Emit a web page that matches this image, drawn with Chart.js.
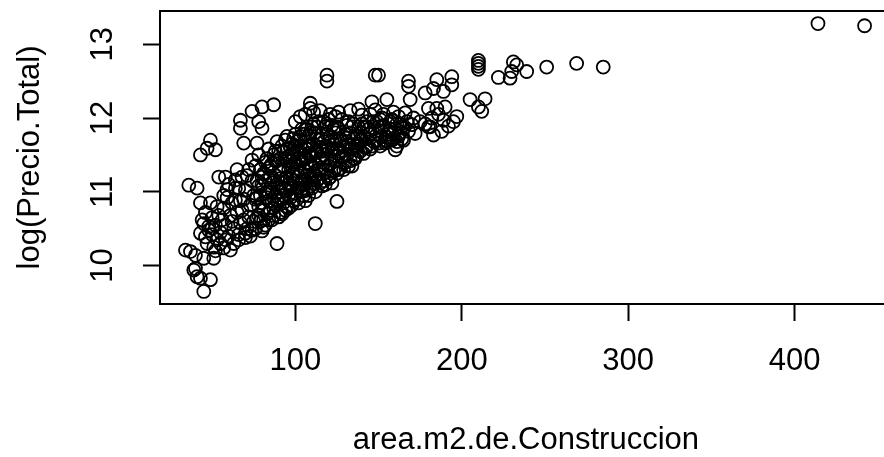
<!DOCTYPE html>
<html>
<head>
<meta charset="utf-8">
<title>log(Precio.Total) vs area.m2.de.Construccion</title>
<script src="https://cdn.jsdelivr.net/npm/chart.js@4.4.1/dist/chart.umd.min.js"></script>
<style>
  html, body { margin: 0; padding: 0; background: #fff; overflow: hidden; }
  #grafico { display: block; }
</style>
</head>
<body>
<canvas id="grafico" width="900" height="457"></canvas>
<script>
// puntos: [area.m2.de.Construccion, log(Precio.Total)]
const atipicosDerecha = [[414,13.28],[442,13.25],[251,12.69],[269,12.74],[285,12.69]];

const grupoSuperior = [
  [210,12.78],[210,12.74],[210,12.70],[210,12.66],[231,12.76],[233,12.72],[239,12.63],
  [222,12.55],[229,12.54],[230,12.63],[168,12.50],[168,12.43],[185,12.52],[183,12.40],
  [194,12.56],[194,12.45],[189,12.36],[178,12.34],[169,12.25],[155,12.25],[150,12.58],
  [119,12.58],[119,12.50],[148,12.58],[109,12.20],[109,12.13],[146,12.22]
];

const grupoDerecha = [
  [205,12.25],[214,12.26],[210,12.15],[212,12.09],[180,12.13],[185,12.13],[190,12.15],
  [197,12.02],[192,11.89],[182,12.00],[183,11.77],[180,11.88],[171,12.00],[172,11.79],
  [160,11.57],[154,11.70],[165,11.86],[170,11.91],[158,11.97],[152,11.88],[148,12.11],
  [143,11.95],[150,11.88],[140,12.04],[166,12.07],[164,11.88],[189,11.97],[181,11.88],
  [175,11.95],[162,12.02],[186,12.05],[178,11.92],[195,11.95],[188,11.82],[153,12.05],
  [157,11.85],[162,11.75],[167,11.95],[156,11.78],[161,11.92],[151,11.98],[168,11.82],
  [159,12.08]
];

const grupoIzqSuperior = [
  [49,11.70],[43,11.50],[52,11.57],[47,11.59],[67,11.97],[67,11.86],[74,12.09],[80,12.15],
  [87,12.18],[78,11.95],[80,11.86],[69,11.66],[77,11.66],[65,11.30],[74,11.43],[95,11.75],
  [106,11.84],[106,11.59]
];

const grupoIzqInferior = [
  [36,11.09],[41,11.05],[43,10.85],[49,10.85],[45,10.57],[43,10.44],[50,10.51],[34,10.21],
  [37,10.19],[40,10.14],[45,10.10],[51,10.10],[57,10.24],[61,10.21],[39,9.94],[43,9.83],
  [49,9.81],[41,9.85],[45,9.65],[40,9.96],[89,10.30],[112,10.57],[125,10.87],[58,11.20],
  [64,11.16],[54,11.20],[59,11.03],[64,10.89],[44,10.62],[48,10.53],[46,10.39],[58,10.35],
  [66,10.35],[70,10.44],[47,10.30],[50,10.42],[52,10.55],[53,10.35],[54,10.68],[48,10.48],
  [51,10.25],[55,10.30],[53,10.80],[46,10.72],[50,10.65],[52,10.20]
];

const nucleo60 = [
  [55,10.45],[56,10.62],[57,10.78],[58,10.55],[59,10.92],[60,10.40],[61,10.68],[62,10.85],
  [63,10.50],[64,11.05],[65,10.72],[63,10.30],[60,11.10],[57,10.95],[62,10.60],[66,10.42],
  [67,10.58],[68,10.75],[69,10.90],[70,11.02],[71,10.50],[72,10.66],[73,10.82],[74,11.15],
  [75,10.95],[68,11.20],[70,10.38],[72,11.30],[66,11.05],[74,10.48],[69,10.62],[71,11.22],
  [73,10.40],[67,10.88],[75,10.60]
];

const nucleo80 = [
  [76,10.50],[77,10.65],[78,10.80],[79,10.95],[80,11.10],[81,11.25],[82,10.55],[83,10.70],
  [84,10.88],[85,11.05],[76,11.35],[78,11.50],[80,10.47],[82,11.40],[84,11.58],[77,11.15],
  [79,10.60],[81,10.75],[83,11.00],[85,11.20],[76,10.90],[78,11.08],[80,10.85],[82,10.98],
  [84,10.62],[79,11.30],[81,10.52],[83,11.45],[77,10.92],[85,10.75],
  [86,10.62],[87,10.78],[88,10.95],[89,11.10],[90,11.28],[91,11.45],[92,10.70],[93,10.85],
  [94,11.02],[95,11.20],[86,11.38],[88,11.55],[90,10.66],[92,11.62],[94,11.70],[87,11.15],
  [89,10.88],[91,11.00],[93,11.35],[95,10.80],[86,11.00],[88,11.22],[90,10.92],[92,11.12],
  [94,10.75],[87,11.50],[89,11.68],[91,10.72],[93,11.55],[95,11.42],[88,10.82],[90,11.05],
  [92,11.30],[94,11.18],[86,10.88]
];

const nucleo100 = [
  [96,10.78],[97,10.92],[98,11.08],[99,11.25],[100,11.40],[101,11.55],[102,10.85],[103,11.00],
  [104,11.15],[105,11.32],[96,11.48],[98,11.65],[100,11.78],[102,11.70],[104,11.85],[97,11.18],
  [99,10.88],[101,11.05],[103,11.42],[105,10.95],[96,11.10],[98,11.35],[100,10.98],[102,11.22],
  [104,11.58],[97,11.60],[99,11.50],[101,11.28],[103,11.75],[105,11.10],[98,10.82],[100,11.15],
  [102,11.45],[104,11.00],[96,11.30],[99,11.72],[101,10.90],[103,11.62],[105,11.50],[97,11.42],
  [106,10.88],[107,11.02],[108,11.18],[109,11.35],[110,11.50],[111,11.65],[112,11.00],[113,11.15],
  [114,11.30],[115,11.45],[106,11.60],[108,11.75],[110,11.88],[112,11.80],[114,11.95],[107,11.40],
  [109,11.08],[111,11.25],[113,11.55],[115,11.12],[106,11.28],[108,11.52],[110,11.20],[112,11.38],
  [114,11.70],[107,11.85],[109,11.62],[111,11.92],[113,11.72],[115,11.60],[108,10.95],[110,11.05],
  [112,11.55],[114,11.18],[106,11.45],[109,11.80],[100,11.95],[103,12.02],[106,12.05],[111,12.08]
];

const nucleo120 = [
  [116,11.08],[117,11.15],[118,11.30],[119,11.45],[120,11.60],[121,11.75],[122,11.12],[123,11.28],
  [124,11.42],[125,11.58],[116,11.72],[118,11.88],[120,11.98],[122,11.90],[124,12.02],[117,11.50],
  [119,11.22],[121,11.38],[123,11.65],[125,11.25],[116,11.40],[118,11.62],[120,11.35],[122,11.55],
  [124,11.80],[117,11.95],[119,11.78],[121,12.05],[123,11.85],[125,11.72],[118,11.10],[120,11.18],
  [122,11.70],[124,11.32],[116,11.55],[119,11.92],[115,12.10],
  [126,11.30],[127,11.32],[128,11.48],[129,11.62],[130,11.78],[131,11.90],[132,11.35],[133,11.42],
  [134,11.58],[135,11.72],[126,11.85],[128,11.98],[130,11.40],[132,11.65],[134,11.88],[127,11.55],
  [129,11.30],[131,11.50],[133,11.80],[135,11.45],[126,11.52],[128,11.70],[130,11.60],[132,11.95],
  [134,11.35],[126,12.08],[133,12.10]
];

const nucleo140 = [
  [136,11.45],[137,11.50],[138,11.65],[139,11.80],[140,11.92],[141,11.52],[142,11.60],[143,11.72],
  [144,11.85],[145,11.58],[146,11.62],[147,11.68],[148,11.82],[149,11.95],[150,11.66],[137,11.75],
  [139,11.55],[141,11.88],[143,11.62],[145,11.78],[147,11.95],[149,11.70],[136,11.62],[138,11.88],
  [140,11.70],[138,12.12],[145,12.05],
  [151,11.62],[152,11.75],[153,11.90],[154,11.66],[155,11.68],[156,11.82],[157,11.95],[158,11.70],
  [159,11.72],[160,11.85],[161,11.68],[162,11.78],[163,11.92],[164,11.72],[165,11.70],[152,12.00],
  [155,11.74],[158,11.98],[161,11.62],[163,11.80]
];

// mas puntos dentro de la nube central (zona mas oscura)
const nucleoDenso = [
  [81,10.62],[83,10.92],[85,11.35],[87,10.68],[89,11.42],[91,11.18],[93,10.95],[95,11.58],
  [97,11.05],[99,11.38],[101,11.68],[103,11.10],[105,11.78],[107,11.22],[109,11.48],[111,11.12],
  [113,11.88],[115,11.32],[117,11.68],[119,11.58],[121,11.20],[123,11.48],[125,11.88],[127,11.72],
  [129,11.48],[131,11.68],[133,11.58],[135,11.92],[137,11.62],[139,11.70],[141,11.75],[143,11.88],
  [78,10.68],[80,11.20],[82,11.15],[84,11.32],[86,11.12],[88,11.42],[90,11.55],[92,10.90],
  [94,11.45],[96,10.95],[98,11.52],[100,11.62],[102,11.05],[104,11.42],[106,11.15],[108,11.62],
  [110,11.35],[112,11.22]
];

const ticksX = [100, 200, 300, 400];
const ticksY = [10, 11, 12, 13];

const fuente = "'Liberation Sans', Arial, sans-serif";

const puntos = [].concat(
  atipicosDerecha, grupoSuperior, grupoDerecha, grupoIzqSuperior, grupoIzqInferior,
  nucleo60, nucleo80, nucleo100, nucleo120, nucleo140, nucleoDenso
).map(([x, y]) => ({ x, y }));

// marco completo alrededor del area de dibujo (como box() en R)
const caja = {
  id: 'caja',
  afterDatasetsDraw(chart) {
    const { ctx, chartArea: a } = chart;
    ctx.save();
    ctx.strokeStyle = '#000';
    ctx.lineWidth = 2;
    ctx.strokeRect(a.left, a.top, a.right - a.left, a.bottom - a.top);
    ctx.restore();
  }
};

const ctx = document.getElementById('grafico').getContext('2d');
new Chart(ctx, {
  type: 'scatter',
  data: {
    datasets: [{
      data: puntos,
      pointStyle: 'circle',
      pointRadius: 6.5,
      pointHoverRadius: 6.5,
      pointBorderWidth: 1.8,
      pointBorderColor: '#000',
      pointBackgroundColor: 'rgba(0,0,0,0)'
    }]
  },
  options: {
    responsive: false,
    animation: false,
    devicePixelRatio: 1,
    events: [],
    layout: { padding: { top: 11, right: 3, left: 0, bottom: 0 } },
    plugins: { legend: { display: false }, tooltip: { enabled: false } },
    scales: {
      x: {
        type: 'linear',
        min: 18.7,
        max: 458.3,
        afterBuildTicks: s => { s.ticks = ticksX.map(v => ({ value: v })); },
        afterFit: s => { s.height = 153; s.paddingLeft = 0; s.paddingRight = 0; },
        border: { display: false },
        grid: { drawOnChartArea: false, tickLength: 17, tickColor: '#000', tickWidth: 2 },
        ticks: { padding: 22, color: '#000', autoSkip: false, maxRotation: 0, font: { family: fuente, size: 31 } },
        title: {
          display: true, text: 'area.m2.de.Construccion', color: '#000',
          font: { family: fuente, size: 31, lineHeight: 1 }, padding: { top: 0, bottom: 1.5 }
        }
      },
      y: {
        type: 'linear',
        min: 9.48,
        max: 13.45,
        afterBuildTicks: s => { s.ticks = ticksY.map(v => ({ value: v })); },
        afterFit: s => { s.width = 160; s.paddingTop = 0; s.paddingBottom = 0; },
        border: { display: false },
        grid: { drawOnChartArea: false, tickLength: 17, tickColor: '#000', tickWidth: 2 },
        ticks: {
          padding: 22, color: '#000', autoSkip: false, minRotation: 90, maxRotation: 90,
          crossAlign: 'center', font: { family: fuente, size: 31 }
        },
        title: {
          display: true, text: 'log(Precio.Total)', color: '#000',
          font: { family: fuente, size: 31, lineHeight: 1 }, padding: { top: 14.5, bottom: 0 }
        }
      }
    }
  },
  plugins: [caja]
});
</script>
</body>
</html>
